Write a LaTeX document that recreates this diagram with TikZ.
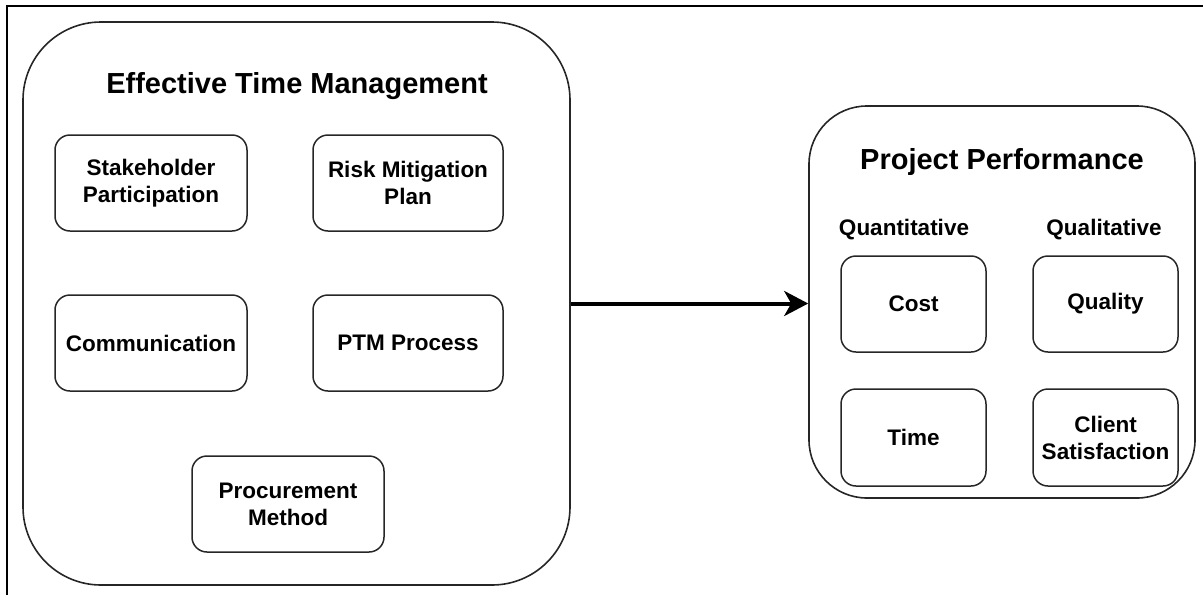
\documentclass[tikz,border=0pt]{standalone}
\usepackage{fontspec}
\setmainfont{Liberation Sans}
\usetikzlibrary{arrows.meta}
\tikzset{
  group/.style={draw=black!85, line width=1.6pt, rounded corners=#1},
  item/.style={draw=black!85, line width=1.5pt, rounded corners=15pt, align=center,
    font=\fontsize{22.5}{27}\selectfont\bfseries, inner sep=0pt},
  heading/.style={font=\fontsize{29}{34}\selectfont\bfseries, inner sep=0pt},
  subhead/.style={font=\fontsize{22.5}{27}\selectfont\bfseries, inner sep=0pt},
  flow/.style={line width=4pt, -{Stealth[length=24pt, width=25pt, inset=7pt]}},
}
\begin{document}
\begin{tikzpicture}[x=1pt, y=-1pt]
\useasboundingbox (0,0) rectangle (1203,595);
% page frame (top and left edges)
\draw[line width=2pt] (1203,6) -- (7,6) -- (7,595);

% left group: effective time management
\node[group=78pt, minimum width=547pt, minimum height=563pt] (etm) at (296.5,303.5) {};
\node[heading] (etmt) at (297,86) {Effective Time Management};
\node[item, minimum width=192pt, minimum height=96pt] (sp) at (151,183) {Stakeholder\\Participation};
\node[item, minimum width=190pt, minimum height=96pt] (rmp) at (408,183) {Risk Mitigation\\Plan};
\node[item, minimum width=192pt, minimum height=96pt] (com) at (151,343) {Communication};
\node[item, minimum width=190pt, minimum height=96pt] (ptm) at (408,343) {PTM Process};
\node[item, minimum width=192pt, minimum height=96pt] (pm) at (288,504) {Procurement\\Method};

% right group: project performance
\node[group=58pt, minimum width=386pt, minimum height=392pt] (pp) at (1002,302) {};
\node[heading] (ppt) at (1002,162) {Project Performance};
\node[subhead] (qn) at (904,230) {Quantitative};
\node[subhead] (ql) at (1104,230) {Qualitative};
\node[item, minimum width=145pt, minimum height=96pt] (cost) at (913.5,304) {Cost};
\node[item, minimum width=145pt, minimum height=96pt] (qual) at (1105.5,304) {Quality};
\node[item, minimum width=145pt, minimum height=97pt] (time) at (913.5,437.5) {Time};
\node[item, minimum width=145pt, minimum height=97pt] (cs) at (1105.5,437.5) {Client\\Satisfaction};

% influence arrow
\draw[flow] (etm.east) -- (etm.east -| pp.west);
\end{tikzpicture}
\end{document}
